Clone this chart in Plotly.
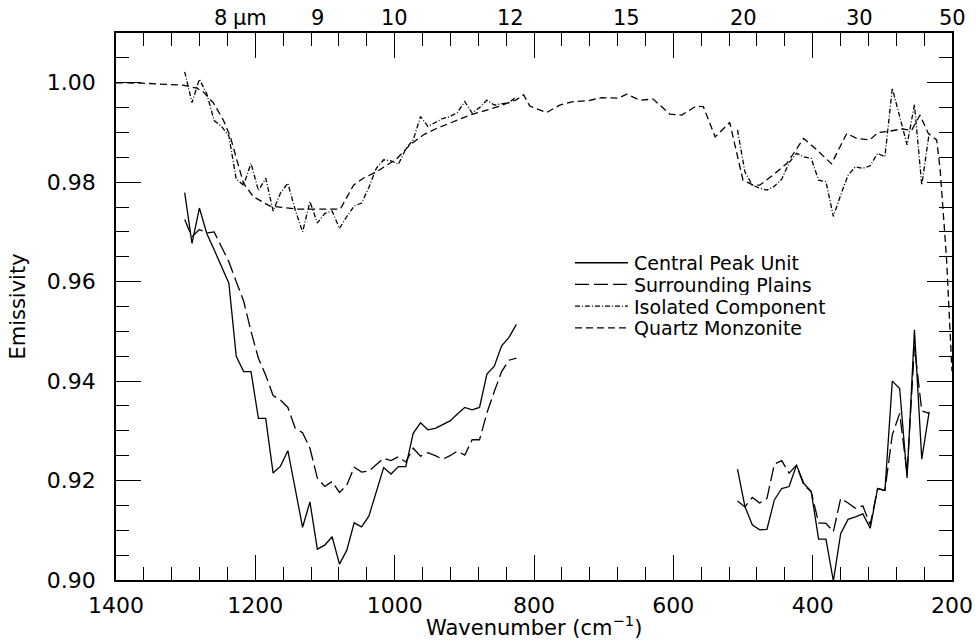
import plotly.graph_objects as go

# ---------------- data ----------------
# TES channel wavenumbers (cm^-1)
wn_hi = [1301.4, 1290.9, 1280.3, 1269.7, 1259.1, 1248.5, 1238.0, 1227.4, 1216.8, 1206.2,
         1195.6, 1185.1, 1174.5, 1163.9, 1153.3, 1142.7, 1132.2, 1121.6, 1111.0, 1100.4,
         1089.8, 1079.2, 1068.7, 1058.1, 1047.5, 1036.9, 1026.3, 1015.8, 1005.2, 994.6,
         984.0, 973.4, 962.9, 952.3, 941.7, 931.1, 920.5, 910.0, 899.4, 888.8,
         878.2, 867.6, 857.0, 846.5, 835.9, 825.3]
wn_lo = [507.9, 497.3, 486.7, 476.1, 465.6, 455.0, 444.4, 433.8, 423.2, 412.7,
         402.1, 391.5, 380.9, 370.3, 359.8, 349.2, 338.6, 328.0, 317.4, 306.8,
         296.3, 285.7, 275.1, 264.5, 253.9, 243.4, 232.8]

central_hi = [0.9779, 0.9677, 0.9748, 0.9697, 0.9664, 0.9631, 0.9597, 0.9450, 0.9419, 0.9419,
              0.9325, 0.9325, 0.9215, 0.9229, 0.9260, 0.9183, 0.9106, 0.9157, 0.9062, 0.9070,
              0.9087, 0.9032, 0.9060, 0.9115, 0.9107, 0.9129, 0.9180, 0.9226, 0.9213, 0.9228,
              0.9228, 0.9295, 0.9316, 0.9302, 0.9305, 0.9313, 0.9320, 0.9334, 0.9347, 0.9342,
              0.9347, 0.9414, 0.9430, 0.9471, 0.9488, 0.9514]
central_lo = [0.9223, 0.9148, 0.9111, 0.9101, 0.9102, 0.9161, 0.9184, 0.9188, 0.9231, 0.9194,
              0.9178, 0.9082, 0.9082, 0.8998, 0.9093, 0.9122, 0.9127, 0.9133, 0.9104, 0.9184,
              0.9180, 0.9400, 0.9385, 0.9205, 0.9503, 0.9243, 0.9338]

plains_hi = [0.9725, 0.9690, 0.9705, 0.9698, 0.9700, 0.9670, 0.9640, 0.9600, 0.9561, 0.9500,
             0.9446, 0.9412, 0.9371, 0.9362, 0.9347, 0.9305, 0.9296, 0.9265, 0.9205, 0.9188,
             0.9198, 0.9176, 0.9191, 0.9227, 0.9217, 0.9219, 0.9232, 0.9245, 0.9240, 0.9248,
             0.9237, 0.9265, 0.9249, 0.9256, 0.9250, 0.9243, 0.9250, 0.9259, 0.9251, 0.9282,
             0.9282, 0.9336, 0.9379, 0.9419, 0.9442, 0.9446]
plains_lo = [0.9159, 0.9147, 0.9166, 0.9155, 0.9164, 0.9233, 0.9240, 0.9215, 0.9231, 0.9191,
             0.9178, 0.9115, 0.9114, 0.9097, 0.9164, 0.9155, 0.9144, 0.9149, 0.9111, 0.9184,
             0.9180, 0.9292, 0.9335, 0.9215, 0.9470, 0.9340, 0.9335]

isolated_hi = [1.0022, 0.9960, 1.0007, 0.9978, 0.9924, 0.9912, 0.9893, 0.9806, 0.9794, 0.9838,
               0.9783, 0.9808, 0.9742, 0.9778, 0.9798, 0.9744, 0.9700, 0.9761, 0.9718, 0.9737,
               0.9742, 0.9707, 0.9731, 0.9752, 0.9758, 0.9790, 0.9828, 0.9845, 0.9843, 0.9836,
               0.9867, 0.9885, 0.9932, 0.9912, 0.9920, 0.9928, 0.9932, 0.9940, 0.9962, 0.9939,
               0.9950, 0.9965, 0.9955, 0.9957, 0.9960, 0.9972]
isolated_lo = [0.9905, 0.9821, 0.9794, 0.9788, 0.9784, 0.9792, 0.9806, 0.9839, 0.9858, 0.9851,
               0.9848, 0.9804, 0.9801, 0.9731, 0.9774, 0.9814, 0.9831, 0.9828, 0.9833, 0.9858,
               0.9851, 0.9989, 0.9932, 0.9875, 0.9956, 0.9794, 0.9898]

# laboratory spectrum
wn_qm = [1400, 1361, 1304, 1284, 1275, 1260, 1246, 1236, 1227, 1217,
         1203, 1179, 1141, 1112, 1078, 1059, 1045, 1026, 997, 978,
         959, 940, 916, 892, 849, 825, 815, 806, 782, 763,
         744, 722, 703, 679, 667, 648, 629, 605, 588, 567,
         557, 540, 519, 500, 485, 476, 457, 437, 413, 394,
         373, 351, 337, 318, 306, 292, 272, 258, 246, 234,
         222, 217, 208, 203, 200]
quartz = [1.0000, 0.9999, 0.9995, 0.9989, 0.9982, 0.9959, 0.9925, 0.9892, 0.9847, 0.9798,
          0.9771, 0.9752, 0.9746, 0.9746, 0.9746, 0.9794, 0.9808, 0.9821, 0.9847, 0.9875,
          0.9895, 0.9908, 0.9922, 0.9935, 0.9953, 0.9966, 0.9976, 0.9953, 0.9940, 0.9955,
          0.9962, 0.9964, 0.9970, 0.9969, 0.9977, 0.9965, 0.9967, 0.9937, 0.9935, 0.9953,
          0.9952, 0.9891, 0.9920, 0.9804, 0.9794, 0.9794, 0.9814, 0.9838, 0.9888, 0.9865,
          0.9837, 0.9898, 0.9888, 0.9885, 0.9900, 0.9902, 0.9907, 0.9904, 0.9935, 0.9898,
          0.9885, 0.9825, 0.9650, 0.9509, 0.9420]

series_names = ["Central Peak Unit", "Surrounding Plains", "Isolated Component", "Quartz Monzonite"]
top_wavelengths = [8, 9, 10, 12, 15, 20, 30, 50]   # micrometres
x_ticks = [1400, 1200, 1000, 800, 600, 400, 200]
y_ticks = [0.90, 0.92, 0.94, 0.96, 0.98, 1.00]
x_title = "Wavenumber (cm<sup>−1</sup>)"
y_title = "Emissivity"

# ---------------- styling ----------------
FONT = "DejaVu Sans"
dashes = ["solid", "14px,5px", "5px,2px,1px,2px", "7px,4px"]
LW = 1.3

def join(a, b):
    return a + [None] + b

fig = go.Figure()
series_x = [join(wn_hi, wn_lo), join(wn_hi, wn_lo), join(wn_hi, wn_lo), wn_qm]
series_y = [join(central_hi, central_lo), join(plains_hi, plains_lo),
            join(isolated_hi, isolated_lo), quartz]
for name, xs, ys, d in zip(series_names, series_x, series_y, dashes):
    fig.add_trace(go.Scatter(x=xs, y=ys, mode="lines", name=name,
                             line=dict(color="black", width=LW, dash=d),
                             connectgaps=False, showlegend=False))

# manual legend (drawn like the original)
leg_x0, leg_x1, leg_tx = 0.549, 0.6124, 0.618
leg_y0, leg_dy = 0.580, 21.7 / 547
shapes, annotations = [], []
for k, (name, d) in enumerate(zip(series_names, dashes)):
    yy = leg_y0 - k * leg_dy
    shapes.append(dict(type="line", xref="paper", yref="paper", x0=leg_x0, x1=leg_x1,
                       y0=yy, y1=yy, line=dict(color="black", width=LW, dash=d)))
    annotations.append(dict(xref="paper", yref="paper", x=leg_tx, y=yy, text=name,
                            showarrow=False, xanchor="left", yanchor="middle",
                            height=21, valign="middle", borderpad=0,
                            font=dict(family=FONT, size=19, color="black")))

# top wavelength scale
for lam in top_wavelengths:
    annotations.append(dict(xref="x", yref="paper", x=10000.0 / lam, y=1.0, text=str(lam),
                            showarrow=False, xanchor="center", yanchor="bottom", yshift=1,
                            font=dict(family=FONT, size=21, color="black")))
annotations.append(dict(xref="x", yref="paper", x=10000.0 / top_wavelengths[0], y=1.0,
                        text="μm", showarrow=False, xanchor="left", yanchor="bottom",
                        xshift=10, yshift=1, font=dict(family=FONT, size=21, color="black")))

# x axis title
annotations.append(dict(xref="paper", yref="paper", x=0.5, y=0.0, text=x_title,
                        showarrow=False, xanchor="center", yanchor="top", yshift=-31,
                        borderpad=0,
                        font=dict(family=FONT, size=21, color="black")))

axis_common = dict(showline=True, linecolor="black", linewidth=1.5, mirror="allticks",
                   ticks="inside", tickcolor="black", tickwidth=1.3, ticklen=25,
                   showgrid=False, zeroline=False,
                   tickfont=dict(family=FONT, size=22, color="black"))

fig.update_layout(
    width=976, height=642,
    margin=dict(l=116, r=24, t=33, b=62),
    paper_bgcolor="white", plot_bgcolor="white",
    xaxis=dict(range=[1400, 200], tickmode="array", tickvals=x_ticks,
               ticktext=[str(v) for v in x_ticks],
               minor=dict(dtick=40, tick0=200, ticks="inside", ticklen=13,
                          tickcolor="black", tickwidth=1.3, showgrid=False),
               ticklabelstandoff=5, automargin=False, **axis_common),
    yaxis=dict(range=[0.90, 1.01], tickmode="array", tickvals=y_ticks,
               ticktext=[f"{v:.2f}" for v in y_ticks],
               minor=dict(dtick=0.005, tick0=0.90, ticks="inside", ticklen=13,
                          tickcolor="black", tickwidth=1.3, showgrid=False),
               title=dict(text=y_title, standoff=16,
                          font=dict(family=FONT, size=21, color="black")),
               ticklabelstandoff=14, automargin=False, **axis_common),
    shapes=shapes,
    annotations=annotations,
    showlegend=False,
)

fig.write_html("out.html")
